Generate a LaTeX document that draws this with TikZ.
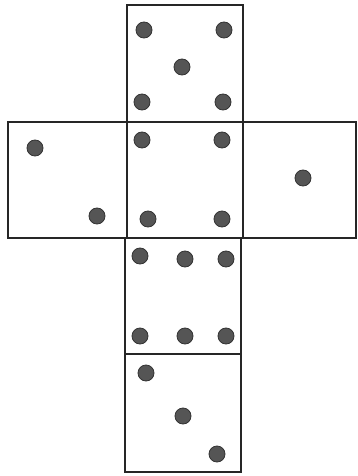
\documentclass[tikz,border=0pt]{standalone}
\usepackage{tikz}
\definecolor{pipgray}{RGB}{85,85,85}
\tikzset{
  face/.style={draw=black!85, line width=1.3pt},
  pip/.style={fill=pipgray, draw=black!80, line width=0.8pt},
}
\begin{document}
\begin{tikzpicture}[x=1pt,y=-1pt]
    \useasboundingbox (0,0) rectangle (357,476);
    % faces
    \draw[face] (127,5) rectangle (243,122);
    \draw[face] (8,122) rectangle (127,238);
    \draw[face] (127,122) rectangle (243,238);
    \draw[face] (243,122) rectangle (356,238);
    \draw[face] (125,238) rectangle (241,354);
    \draw[face] (125,354) rectangle (241,472);
    % pips
    \foreach \x/\y in {144/30, 224/30, 182/67, 142/102, 223/102,
                       35/148, 97/216,
                       142/140, 222/140, 148/219, 222/219,
                       303/178,
                       140/256, 185/259, 226/259, 140/336, 185/336, 226/336,
                       146/373, 183/416, 217/454}
      \filldraw[pip] (\x,\y) circle (8);
  \end{tikzpicture}
\end{document}
